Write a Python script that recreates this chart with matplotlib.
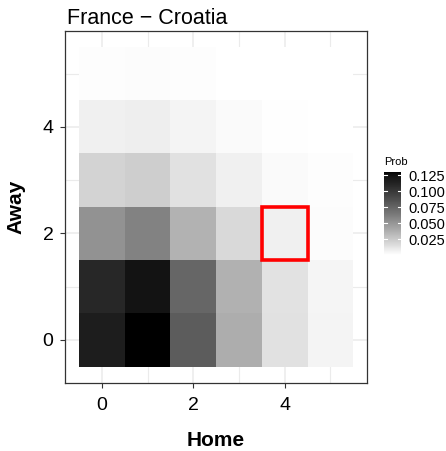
import numpy as np
import matplotlib
matplotlib.use("Agg")
import matplotlib.pyplot as plt
from matplotlib.colors import ListedColormap
from matplotlib.patches import Rectangle

plt.rcParams['font.family'] = ['Liberation Sans', 'DejaVu Sans']

# Scoreline probabilities: rows = away goals (0..5), columns = home goals (0..5)
home_goals = [0, 1, 2, 3, 4, 5]
away_goals = [0, 1, 2, 3, 4, 5]
prob_away0 = [0.1167, 0.1310, 0.0798, 0.0388, 0.0141, 0.0054]
prob_away1 = [0.1105, 0.1233, 0.0744, 0.0369, 0.0137, 0.0048]
prob_away2 = [0.0522, 0.0597, 0.0360, 0.0179, 0.0068, 0.0021]
prob_away3 = [0.0202, 0.0231, 0.0141, 0.0068, 0.0025, 0.0012]
prob_away4 = [0.0072, 0.0078, 0.0054, 0.0025, 0.0009, 0.0003]
prob_away5 = [0.0016, 0.0020, 0.0016, 0.0005, 0.0002, 0.0001]
highlight = (4, 2)  # (home, away)
title = "France \u2212 Croatia"
cbar_ticks = [0.025, 0.050, 0.075, 0.100, 0.125]

prob = np.array([prob_away0, prob_away1, prob_away2,
                 prob_away3, prob_away4, prob_away5])


def lab_grey(L):
    """sRGB grey level for a CIELab lightness value."""
    f = (L + 16.0) / 116.0
    Y = np.where(L > 8.0, f ** 3, L / 903.3)
    s = np.where(Y > 0.0031308, 1.055 * Y ** (1 / 2.4) - 0.055, 12.92 * Y)
    return np.clip(s, 0, 1)


# white -> black gradient, linear in Lab lightness
L = np.linspace(100, 0, 256)
g = lab_grey(L)
cmap = ListedColormap(np.column_stack([g, g, g]))

W, H = 446, 451
fig = plt.figure(figsize=(W / 100, H / 100), dpi=100)
fig.patch.set_facecolor("white")

ax = fig.add_axes([65.3 / W, 1 - 382.5 / H, (367 - 65.3) / W, (382.5 - 31) / H])
vmin, vmax = float(prob.min()), float(prob.max())
edges_x = np.arange(len(home_goals) + 1) - 0.5
edges_y = np.arange(len(away_goals) + 1) - 0.5
mesh = ax.pcolormesh(edges_x, edges_y, prob, cmap=cmap, vmin=vmin, vmax=vmax,
                     zorder=2, linewidth=0, antialiased=False)

ax.add_patch(Rectangle((highlight[0] - 0.5, highlight[1] - 0.5), 1, 1,
                       fill=False, edgecolor="#ff0000", linewidth=2.6, zorder=3))

ax.set_xlim(-0.8, 5.8)
ax.set_ylim(-0.8, 5.8)
ax.set_xticks([0, 2, 4])
ax.set_yticks([0, 2, 4])
ax.set_xticks([1, 3, 5], minor=True)
ax.set_yticks([1, 3, 5], minor=True)
ax.grid(which="major", color="#ebebeb", linewidth=1.1, zorder=0)
ax.grid(which="minor", color="#ebebeb", linewidth=0.8, zorder=0)
ax.set_axisbelow(True)
ax.tick_params(which="major", length=3.5, width=0.8, color="#333333",
               labelsize=14, labelcolor="black")
ax.tick_params(axis="x", which="major", pad=7)
ax.tick_params(axis="y", which="major", pad=5)
ax.tick_params(which="minor", length=0)
for sp in ax.spines.values():
    sp.set_color("#333333")
    sp.set_linewidth(0.9)

ax.set_xlabel("Home", fontsize=15, fontweight="bold", labelpad=12)
ax.set_ylabel("Away", fontsize=15, fontweight="bold", labelpad=12)
ax.set_title(title, fontsize=15.5, loc="left", pad=5, x=0.005)

# colour bar
cb_top, cb_bot = 171.5, 255.0
cax = fig.add_axes([384 / W, 1 - cb_bot / H, 17 / W, (cb_bot - cb_top) / H])
cb = fig.colorbar(mesh, cax=cax, ticks=cbar_ticks)
cb.outline.set_visible(False)
cax.tick_params(length=0, labelsize=10.5, pad=5)
cax.set_yticklabels([f"{t:.3f}" for t in cbar_ticks])
for t in cbar_ticks:
    cax.plot([0, 0.2], [t, t], color="white", linewidth=0.8,
             transform=cax.get_yaxis_transform())
    cax.plot([0.8, 1.0], [t, t], color="white", linewidth=0.8,
             transform=cax.get_yaxis_transform())
fig.text(384 / W, 1 - 162 / H, "Prob", fontsize=8, va="center", ha="left")

fig.savefig("out.png", dpi=100, facecolor="white")
